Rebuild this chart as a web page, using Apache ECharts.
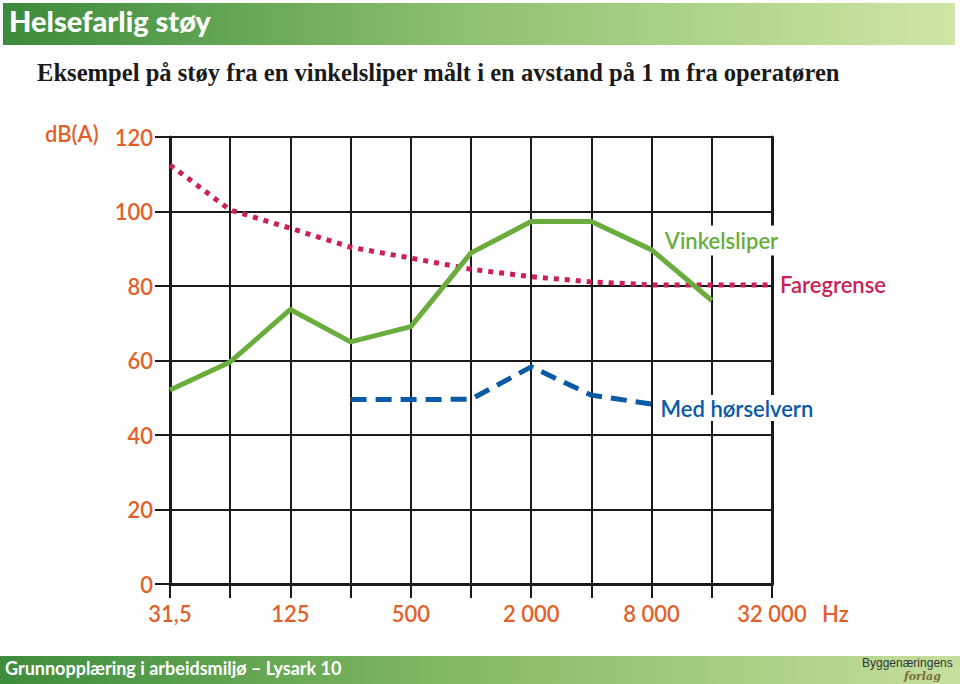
<!DOCTYPE html>
<html><head><meta charset="utf-8">
<script src="https://cdn.jsdelivr.net/npm/echarts@6/dist/echarts.min.js"></script>
<style>html,body{margin:0;padding:0;background:#fff}#c{width:960px;height:684px}</style>
</head><body><div id="c"></div>
<script>
const categories = ['31,5','63','125','250','500','1 000','2 000','4 000','8 000','16 000','32 000'];
const yTicks = [0,20,40,60,80,100,120];
const vinkelsliper = [52.1, 59.6, 73.7, 65.0, 69.1, 88.9, 97.3, 97.3, 89.7, 76.1, null];
const faregrense = [112.5, 100.4, 95.5, 90.4, 87.5, 84.5, 82.5, 81.1, 80.3, 80.3, 80.3];
const medHorselvern = [null, null, null, 49.5, 49.5, 49.6, 58.3, 50.7, 48.3, null, null];

const orange = '#e2612b';
const sans = 'Lato, "Open Sans", sans-serif';
const chart = echarts.init(document.getElementById('c'), null, {renderer: 'svg'});
chart.setOption({
  animation: false,
  backgroundColor: '#fff',
  grid: {left: 170, right: 188, top: 137, bottom: 100},
  xAxis: {
    type: 'category', data: categories, boundaryGap: false,
    axisLine: {lineStyle: {color: '#1a1a1a', width: 3}},
    axisTick: {show: true, length: 14, interval: 0, lineStyle: {color: '#1a1a1a', width: 2}},
    axisLabel: {interval: 1, color: orange, fontFamily: sans, fontSize: 22, fontWeight: 600, margin: 18},
    splitLine: {show: true, interval: 0, lineStyle: {color: '#1a1a1a', width: 2}}
  },
  yAxis: [{
    type: 'value', min: yTicks[0], max: yTicks[yTicks.length-1], interval: 20,
    axisLine: {show: true, lineStyle: {color: '#1a1a1a', width: 3}},
    axisTick: {show: true, length: 15, lineStyle: {color: '#1a1a1a', width: 2}},
    axisLabel: {color: orange, fontFamily: sans, fontSize: 22, fontWeight: 600, margin: 17},
    splitLine: {show: true, lineStyle: {color: '#1a1a1a', width: 2}}
  },{
    type: 'value', min: 0, max: 120, interval: 20, position: 'right',
    axisLine: {show: true, lineStyle: {color: '#1a1a1a', width: 3}},
    axisTick: {show: false}, axisLabel: {show: false}, splitLine: {show: false}
  }],
  series: [
    {
      name: 'Faregrense', type: 'line', data: faregrense, symbol: 'none', z: 3,
      lineStyle: {color: '#cc1f56', width: 5, type: [5, 6]},
      endLabel: {show: true, formatter: 'Faregrense', color: '#cc1f56', fontFamily: sans, fontSize: 22, fontWeight: 600,
        distance: 6, backgroundColor: '#fff', padding: [2, 2]}
    },
    {
      name: 'Vinkelsliper', type: 'line', data: vinkelsliper, symbol: 'none', z: 4,
      lineStyle: {color: '#6aad3d', width: 5},
      endLabel: {show: true, formatter: 'Vinkelsliper', color: '#6aad3d', fontFamily: sans, fontSize: 22, fontWeight: 600,
        distance: 5, offset: [-54, -60], backgroundColor: '#fff', padding: [4, 2]}
    },
    {
      name: 'Med hørselvern', type: 'line', data: medHorselvern, symbol: 'none', z: 4,
      lineStyle: {color: '#0b5aa6', width: 5, type: [16, 9]},
      endLabel: {show: true, formatter: 'Med hørselvern', color: '#0b5aa6', fontFamily: sans, fontSize: 22, fontWeight: 600,
        distance: 7, offset: [0, 4], backgroundColor: '#fff', padding: [2, 2]}
    }
  ],
  graphic: [
    {type: 'rect', left: 3, top: 3, shape: {width: 952, height: 42}, z: 0,
      style: {fill: new echarts.graphic.LinearGradient(0, 0, 1, 0, [
        {offset: 0, color: '#3b8b3b'}, {offset: 0.5, color: '#90c273'}, {offset: 1, color: '#cfe5a6'}])}},
    {type: 'text', left: 9, top: 6, z: 1,
      style: {text: 'Helsefarlig støy', fill: '#fff', font: '900 29px ' + sans}},
    {type: 'text', left: 37, top: 60, z: 1,
      style: {text: 'Eksempel på støy fra en vinkelsliper målt i en avstand på 1 m fra operatøren', fill: '#1a1a1a', font: 'bold 24.6px "Liberation Serif", serif'}},
    {type: 'text', left: 45, top: 122, z: 1,
      style: {text: 'dB(A)', fill: orange, font: '600 22px ' + sans}},
    {type: 'text', left: 822, top: 602, z: 1,
      style: {text: 'Hz', fill: orange, font: '600 22px ' + sans}},
    {type: 'rect', left: 0, top: 656, shape: {width: 960, height: 28}, z: 0,
      style: {fill: new echarts.graphic.LinearGradient(0, 0, 1, 0, [
        {offset: 0, color: '#3d8d3d'}, {offset: 0.5, color: '#86bb66'}, {offset: 1, color: '#c6df9e'}])}},
    {type: 'text', left: 5, top: 659, z: 1,
      style: {text: 'Grunnopplæring i arbeidsmiljø – Lysark 10', fill: '#fff', font: 'bold 18px ' + sans}},
    {type: 'text', left: 862, top: 657, z: 1,
      style: {text: 'Byggenæringens', fill: '#333', font: '12px "Liberation Sans", sans-serif'}},
    {type: 'text', left: 904, top: 671, z: 1,
      style: {text: 'forlag', fill: '#7a6a3a', font: 'italic bold 11px "DejaVu Serif", serif'}}
  ]
});
</script></body></html>
